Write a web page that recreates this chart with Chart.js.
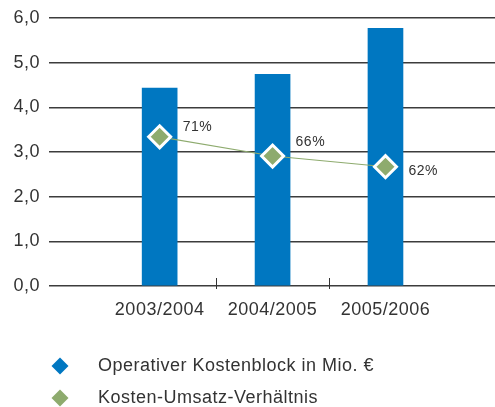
<!DOCTYPE html>
<html>
<head>
<meta charset="utf-8">
<script src="https://cdn.jsdelivr.net/npm/chart.js@4.4.0/dist/chart.umd.min.js"></script>
<style>
  html, body { margin: 0; padding: 0; background: #fff; }
</style>
</head>
<body>
<canvas id="kosten_chart" width="495" height="407"></canvas>
<script>
var categories = ['2003/2004', '2004/2005', '2005/2006'];
var kostenblock = [4.43, 4.74, 5.77];
// ratio markers sit on the left axis; the percent labels are printed next to them
var verhaeltnis = [3.34, 2.91, 2.67];
var verhaeltnisLabels = ['71%', '66%', '62%'];
var legendLabels = ['Operativer Kostenblock in Mio. €', 'Kosten-Umsatz-Verhältnis'];

var BLUE = '#0077c1';
var GREEN = '#8eab6e';
var TEXT = '#333333';
var FONT = '"Liberation Sans", Arial, Helvetica, sans-serif';

function toPoints(values) {
  return values.map(function(v, i) { return { x: i + 1, y: v }; });
}

// category labels + small tick marks on the x axis, labels beside the diamonds, legend below
var extrasPlugin = {
  id: 'extras',
  beforeUpdate: function(chart) { chart.ctx.letterSpacing = '0.5px'; },
  beforeDraw: function(chart) { chart.ctx.letterSpacing = '0.5px'; },
  beforeDatasetsDraw: function(chart) {
    var ctx = chart.ctx;
    var x = chart.scales.x;
    var y0 = chart.scales.y.getPixelForValue(0);
    ctx.save();
    ctx.strokeStyle = TEXT;
    ctx.lineWidth = 1;
    for (var i = 1; i < categories.length; i++) {
      var px = Math.round(x.getPixelForValue(i + 0.5)) + 0.5;
      ctx.beginPath();
      ctx.moveTo(px, y0 - 8);
      ctx.lineTo(px, y0 + 3);
      ctx.stroke();
    }
    ctx.font = '18px ' + FONT;
    ctx.fillStyle = TEXT;
    ctx.textAlign = 'center';
    ctx.textBaseline = 'middle';
    categories.forEach(function(c, i) {
      ctx.fillText(c, x.getPixelForValue(i + 1), y0 + 24);
    });
    ctx.restore();
  },
  afterDatasetsDraw: function(chart) {
    var ctx = chart.ctx;
    var meta = chart.getDatasetMeta(1);
    var dy = [-10, -14, 4];
    ctx.save();
    ctx.font = '14px ' + FONT;
    ctx.fillStyle = TEXT;
    ctx.textAlign = 'left';
    ctx.textBaseline = 'middle';
    meta.data.forEach(function(pt, i) {
      ctx.fillText(verhaeltnisLabels[i], pt.x + 23, pt.y + dy[i]);
    });
    ctx.restore();
  },
  afterDraw: function(chart) {
    var ctx = chart.ctx;
    var colors = [BLUE, GREEN];
    ctx.save();
    ctx.font = '18px ' + FONT;
    ctx.textAlign = 'left';
    ctx.textBaseline = 'middle';
    legendLabels.forEach(function(label, i) {
      var cy = 366 + i * 32;
      var cx = 60;
      var r = 8.5;
      ctx.fillStyle = colors[i];
      ctx.beginPath();
      ctx.moveTo(cx - r, cy);
      ctx.lineTo(cx, cy - r);
      ctx.lineTo(cx + r, cy);
      ctx.lineTo(cx, cy + r);
      ctx.closePath();
      ctx.fill();
      ctx.fillStyle = TEXT;
      ctx.fillText(label, 98, cy);
    });
    ctx.restore();
  }
};

var ctx = document.getElementById('kosten_chart').getContext('2d');

var kostenChart = new Chart(ctx,
{
  type: 'bar',
  data:
  {
    datasets:
    [{
      type: 'bar',
      label: legendLabels[0],
      data: toPoints(kostenblock),
      backgroundColor: BLUE,
      borderWidth: 0,
      barThickness: 35,
      order: 2
    },
    {
      type: 'line',
      label: legendLabels[1],
      data: toPoints(verhaeltnis),
      borderColor: GREEN,
      borderWidth: 1.2,
      pointStyle: 'rectRot',
      pointRadius: 11,
      pointBackgroundColor: GREEN,
      pointBorderColor: '#ffffff',
      pointBorderWidth: 3,
      tension: 0,
      order: 1
    }]
  },
  options:
  {
    responsive: false,
    animation: false,
    devicePixelRatio: 1,
    layout:
    {
      autoPadding: false, // the line's point radius otherwise eats into the right edge
      padding: { top: 18, right: 0, left: 0, bottom: 0 }
    },
    plugins:
    {
      legend: { display: false },
      tooltip: { enabled: false }
    },
    scales:
    {
      x:
      {
        type: 'linear',
        offset: false,
        min: 0.02,
        max: 3.97,
        grid: { display: false, drawTicks: false, offset: false },
        border: { display: false },
        afterFit: function(scale) {
          scale.height = 121;
          scale.paddingLeft = 0;
          scale.paddingRight = 0;
        },
        ticks: { display: false }
      },
      y:
      {
        min: 0,
        max: 6,
        grid:
        {
          color: '#3c3c3c',
          lineWidth: 1.5,
          drawTicks: true,
          tickLength: 9,
          tickColor: 'rgba(0,0,0,0)'
        },
        border: { display: false },
        afterFit: function(scale) { scale.width = 49; },
        ticks:
        {
          stepSize: 1,
          padding: 0,
          color: TEXT,
          font: { family: FONT, size: 18 },
          callback: function(v) { return v.toFixed(1).replace('.', ','); }
        }
      }
    }
  },
  plugins: [extrasPlugin]
});
</script>
</body>
</html>
